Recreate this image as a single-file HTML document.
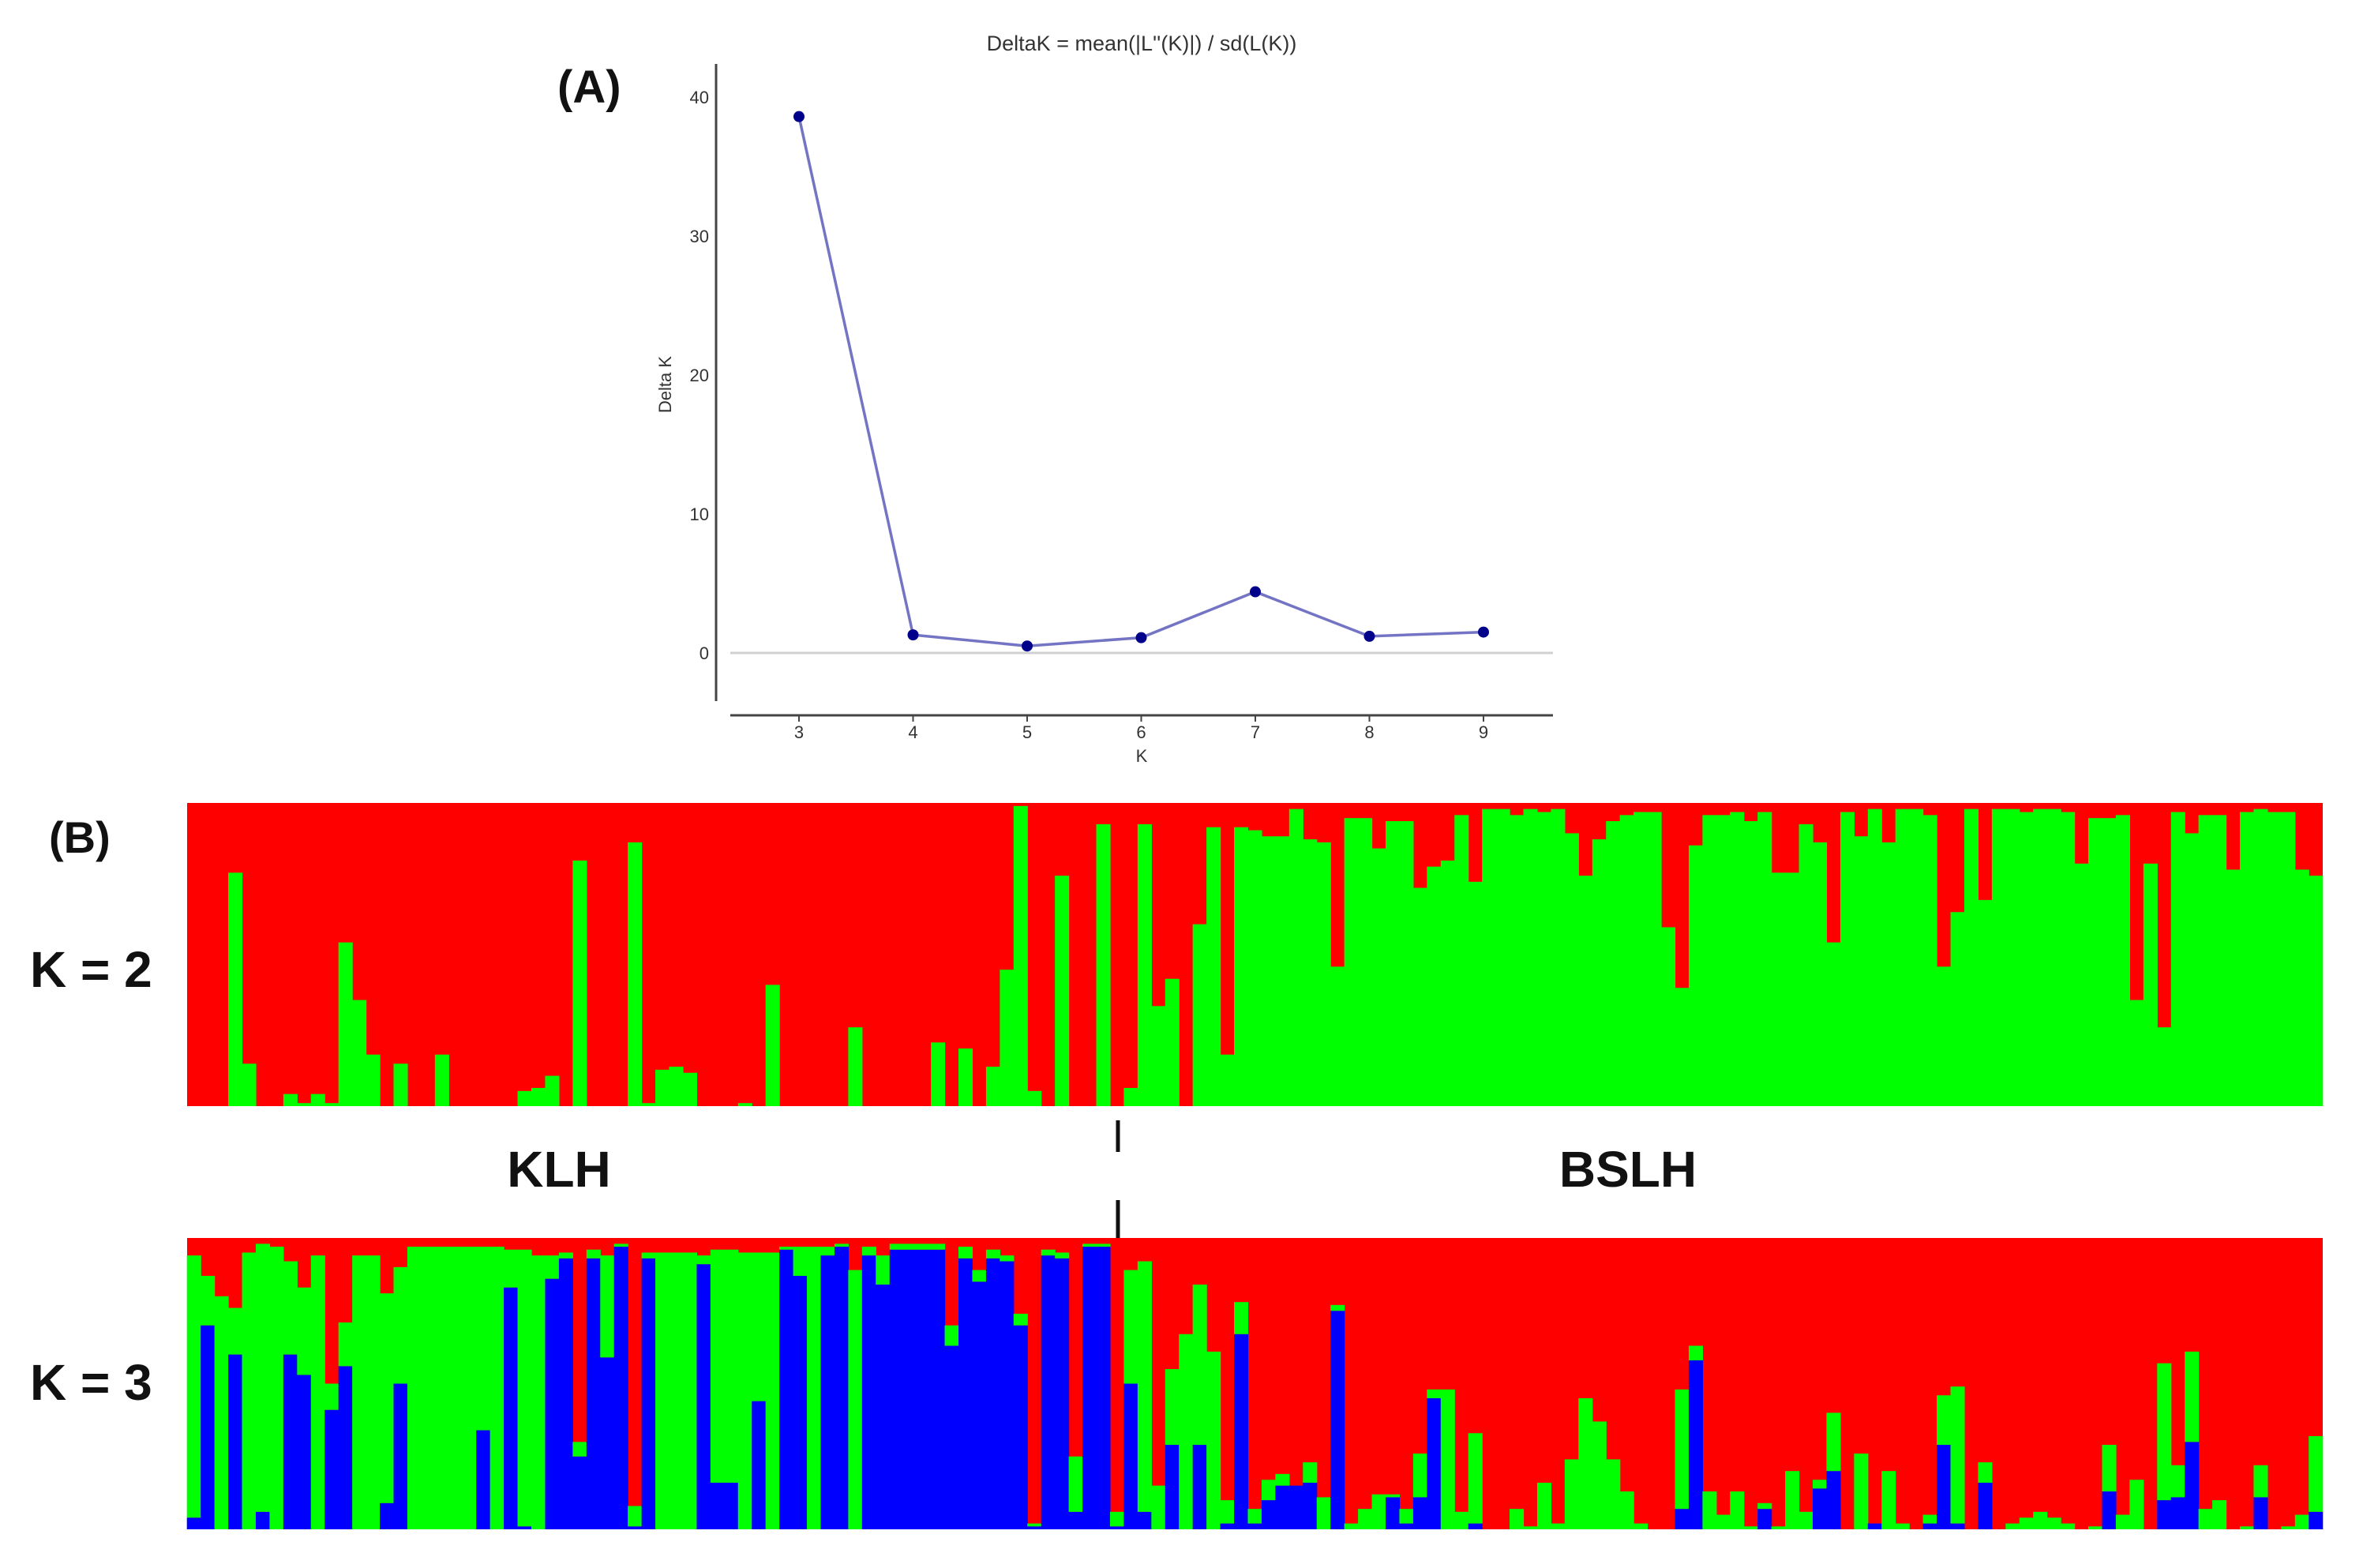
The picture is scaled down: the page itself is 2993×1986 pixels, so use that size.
<!DOCTYPE html>
<html>
<head>
<meta charset="utf-8">
<style>
html,body{margin:0;padding:0;background:#fff;}
svg{display:block;}
text{font-family:"Liberation Sans",Arial,sans-serif;}
</style>
</head>
<body>
<svg id="fig" width="2993" height="1986" viewBox="0 0 2993 1986" xmlns="http://www.w3.org/2000/svg">
  <rect x="0" y="0" width="2993" height="1986" fill="#fff"/>
  <text x="706" y="130" font-size="58" font-weight="bold" fill="#111">(A)</text>
  <text x="1446" y="64" font-size="27" text-anchor="middle" fill="#333">DeltaK = mean(|L''(K)|) / sd(L(K))</text>
  <line x1="907" y1="81" x2="907" y2="888" stroke="#444" stroke-width="3"/>
  <line x1="925" y1="906" x2="1967" y2="906" stroke="#444" stroke-width="3"/>
  <text x="0" y="0" font-size="22" text-anchor="middle" fill="#333" transform="translate(850,487) rotate(-90)">Delta K</text>
  <text x="1446" y="965" font-size="22" text-anchor="middle" fill="#333">K</text>
  <g id="chartA"></g>

  <text x="62" y="1080" font-size="56" font-weight="bold" fill="#111">(B)</text>
  <text x="38" y="1250" font-size="64" font-weight="bold" fill="#111">K = 2</text>
  <text x="38" y="1773" font-size="64" font-weight="bold" fill="#111">K = 3</text>
  <text x="708" y="1503" font-size="64" font-weight="bold" text-anchor="middle" fill="#111">KLH</text>
  <text x="2062" y="1503" font-size="64" font-weight="bold" text-anchor="middle" fill="#111">BSLH</text>
  <g id="k2"></g>
  <g id="k3"></g>
  <line x1="1416" y1="1419" x2="1416" y2="1459" stroke="#111" stroke-width="5"/>
  <line x1="1416" y1="1520" x2="1416" y2="1568" stroke="#111" stroke-width="5"/>
</svg>
<script>
const kValues = [3,4,5,6,7,8,9];
const deltaK = [38.6,1.3,0.5,1.1,4.4,1.2,1.5];
const yTicks = [0,10,20,30,40];

const k2Green = [0,0,0,0.77,0.14,0,0,0.04,0.01,0.04,0.01,0.54,0.35,0.17,0,0.14,0,0,0.17,0,0,0,0,0,0.05,0.06,0.10,0,0.81,0,0,0,0.87,0.01,0.12,0.13,0.11,0,0,0,0.01,0,0.40,0,0,0,0,0,0.26,0,0,0,0,0,0.21,0,0.19,0,0.13,0.45,0.99,0.05,0,0.76,0,0,0.93,0,0.06,0.93,0.33,0.42,0,0.60,0.92,0.17,0.92,0.91,0.89,0.89,0.98,0.88,0.87,0.46,0.95,0.95,0.85,0.94,0.94,0.72,0.79,0.81,0.96,0.74,0.98,0.98,0.96,0.98,0.97,0.98,0.90,0.76,0.88,0.94,0.96,0.97,0.97,0.59,0.39,0.86,0.96,0.96,0.97,0.94,0.97,0.77,0.77,0.93,0.87,0.54,0.97,0.89,0.98,0.87,0.98,0.98,0.96,0.46,0.64,0.98,0.68,0.98,0.98,0.97,0.98,0.98,0.97,0.80,0.95,0.95,0.96,0.35,0.80,0.26,0.97,0.90,0.96,0.96,0.78,0.97,0.98,0.97,0.97,0.78,0.76];
const k3Blue = [0.04,0.70,0,0.60,0,0.06,0,0.60,0.53,0,0.41,0.56,0,0,0.09,0.50,0,0,0,0,0,0.34,0,0.83,0.01,0,0.86,0.93,0.25,0.93,0.59,0.97,0.01,0.93,0,0,0,0.91,0.16,0.16,0,0.44,0,0.96,0.87,0,0.94,0.97,0,0.94,0.84,0.96,0.96,0.96,0.96,0.63,0.93,0.85,0.93,0.92,0.70,0.01,0.94,0.93,0.06,0.97,0.97,0.01,0.50,0.06,0,0.29,0,0.29,0,0.02,0.67,0.02,0.10,0.15,0.15,0.16,0,0.75,0,0,0,0.11,0.02,0.11,0.45,0,0,0.02,0,0,0,0,0,0,0,0,0,0,0,0,0,0,0.07,0.58,0,0,0,0,0.07,0,0,0,0.14,0.20,0,0,0.02,0,0,0,0.02,0.29,0.02,0,0.16,0,0,0,0,0,0,0,0,0.13,0,0,0,0.10,0.11,0.30,0,0,0,0,0.11,0,0,0,0.06];
const k3Green = [0.90,0.17,0.80,0.16,0.95,0.92,0.97,0.32,0.30,0.94,0.09,0.15,0.94,0.94,0.72,0.40,0.97,0.97,0.97,0.97,0.97,0.63,0.97,0.13,0.95,0.94,0.08,0.02,0.05,0.03,0.35,0.01,0.07,0.02,0.95,0.95,0.95,0.03,0.80,0.80,0.95,0.51,0.95,0.01,0.10,0.97,0.03,0.01,0.89,0.03,0.10,0.02,0.02,0.02,0.02,0.07,0.04,0.04,0.03,0.02,0.04,0.01,0.02,0.02,0.19,0.01,0.01,0.05,0.39,0.86,0.15,0.26,0.67,0.55,0.61,0.08,0.11,0.05,0.07,0.04,0,0.07,0.11,0.02,0.02,0.07,0.12,0.01,0.05,0.15,0.03,0.48,0.06,0.31,0,0,0.07,0.01,0.16,0.02,0.24,0.45,0.37,0.24,0.13,0.02,0,0,0.41,0.05,0.13,0.05,0.13,0.01,0.02,0.01,0.20,0.06,0.03,0.20,0,0.26,0,0.20,0.02,0,0.03,0.17,0.47,0,0.07,0,0.02,0.04,0.06,0.04,0.02,0,0.01,0.16,0.05,0.17,0,0.47,0.11,0.31,0.07,0.10,0,0.01,0.11,0,0.01,0.05,0.26];

const NS = 'http://www.w3.org/2000/svg';
function mk(tag, attrs, parent){
  const el = document.createElementNS(NS, tag);
  for (const k in attrs) el.setAttribute(k, attrs[k]);
  parent.appendChild(el);
  return el;
}

const ax = {x0:1012, x1:1879, y0:827, y40:123};
function xK(k){ return ax.x0 + (k - kValues[0]) * (ax.x1 - ax.x0) / (kValues[kValues.length-1] - kValues[0]); }
function yD(v){ return ax.y0 + v * (ax.y40 - ax.y0) / 40; }
const gA = document.getElementById('chartA');

const zl = mk('line', {x1:925, x2:1967, y1:yD(0), y2:yD(0), stroke:'#d0d0d0', 'stroke-width':3}, gA);



yTicks.forEach(t => {
  const tl = mk('text', {x:898, y:yD(t)+8, 'font-size':22, 'text-anchor':'end', fill:'#333'}, gA);
  tl.textContent = t;
  
  
});
kValues.forEach(k => {
  const tk = mk('line', {x1:xK(k), x2:xK(k), y1:906, y2:914, stroke:'#444', 'stroke-width':2}, gA);
  
  
  const tl = mk('text', {x:xK(k), y:935, 'font-size':22, 'text-anchor':'middle', fill:'#333'}, gA);
  tl.textContent = k;
  
  
});
const pts = kValues.map((k,i) => xK(k) + ',' + yD(deltaK[i])).join(' ');
const pl = mk('polyline', {points:pts, fill:'none', stroke:'#7474c4', 'stroke-width':3.5}, gA);


kValues.forEach((k,i) => {
  const c = mk('circle', {cx:xK(k), cy:yD(deltaK[i]), r:7, fill:'#00008b'}, gA);
  
  
});

const bx0 = 237, bx1 = 2942;
const N = k2Green.length;
const bw = (bx1 - bx0) / N;
function xi(i){ return bx0 + i * bw; }
const RED = '#ff0000', GREEN = '#00ff00', BLUE = '#0000ff';

function drawPlot(gid, top, bottom, layers){
  const g = document.getElementById(gid);
  const h = bottom - top;
  const bg = mk('rect', {x:bx0, y:top, width:bx1-bx0, height:h, fill:RED}, g);
  
  
  for (let i = 0; i < N; i++){
    let acc = 0;
    layers.forEach(L => {
      const v = L.data[i];
      if (v > 0){
        const r = mk('rect', {x:xi(i)-0.3, y:bottom - (acc+v)*h, width:bw+0.6, height:v*h, fill:L.color}, g);
        
        
      }
      acc += v;
    });
  }
}
drawPlot('k2', 1017, 1401, [{data:k2Green, color:GREEN, name:'k2-green-bar'}]);
drawPlot('k3', 1568, 1937, [{data:k3Blue, color:BLUE, name:'k3-blue-bar'},{data:k3Green, color:GREEN, name:'k3-green-bar'}]);
</script>
</body>
</html>
